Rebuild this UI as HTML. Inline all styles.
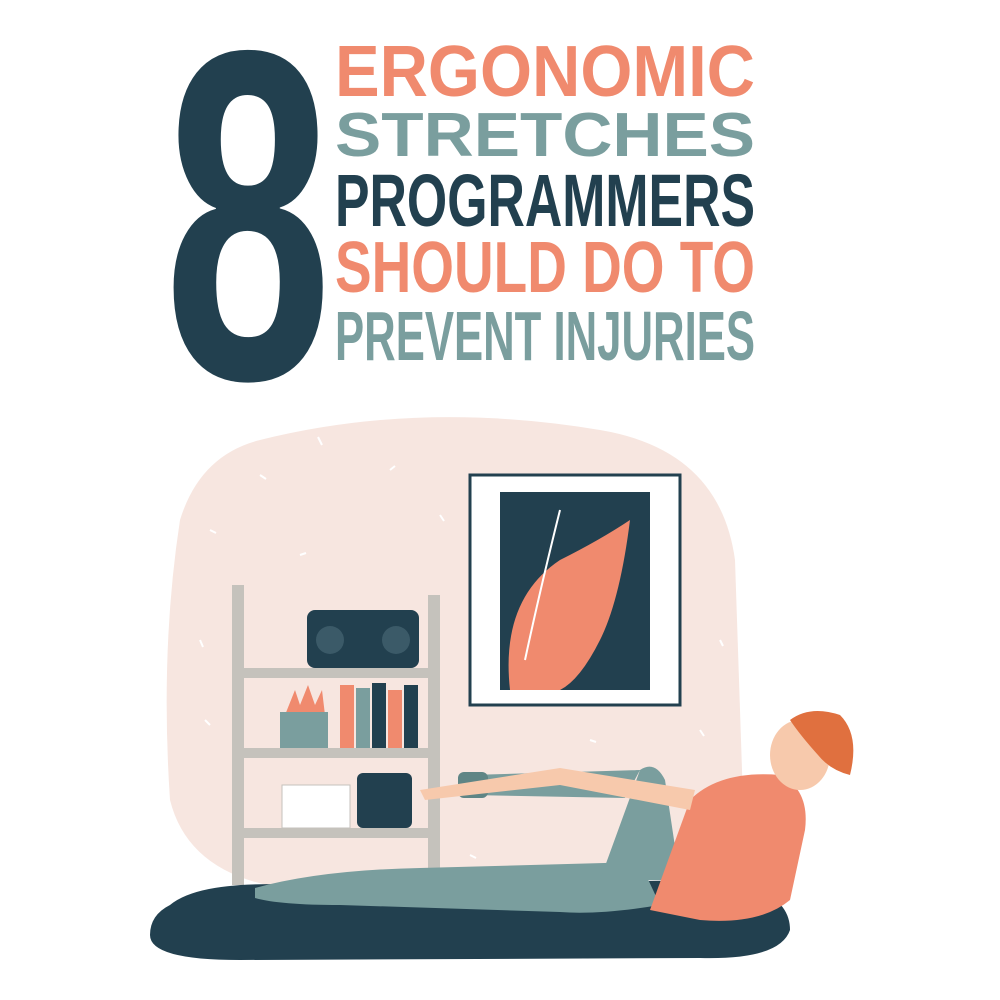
<!DOCTYPE html>
<html><head><meta charset="utf-8"><style>
html,body{margin:0;padding:0;background:#fff;width:1000px;height:1000px;overflow:hidden}
text{font-family:"Liberation Sans Narrow","Liberation Sans",sans-serif;font-weight:bold}
</style></head><body>
<svg width="1000" height="1000" viewBox="0 0 1000 1000">
<g>
<text x="248" y="378" font-size="470" text-anchor="middle" fill="#22404f" textLength="168" lengthAdjust="spacingAndGlyphs">8</text>
<text x="335" y="96" font-size="72" fill="#f08a6e" textLength="420" lengthAdjust="spacingAndGlyphs">ERGONOMIC</text>
<text x="335" y="156" font-size="62" fill="#7a9e9e" textLength="420" lengthAdjust="spacingAndGlyphs">STRETCHES</text>
<text x="335" y="226" font-size="74" fill="#22404f" textLength="420" lengthAdjust="spacingAndGlyphs">PROGRAMMERS</text>
<text x="335" y="292" font-size="72" fill="#f08a6e" textLength="420" lengthAdjust="spacingAndGlyphs">SHOULD DO TO</text>
<text x="335" y="360" font-size="70" fill="#7a9e9e" textLength="420" lengthAdjust="spacingAndGlyphs">PREVENT INJURIES</text>
</g>
<g>
<path d="M260 440 Q420 400 600 430 Q720 450 735 560 L745 860 Q600 895 300 890 Q190 880 170 800 Q160 650 180 520 Q200 455 260 440Z" fill="#f7e6e0"/>
<g stroke="#fff" stroke-width="2" fill="none">
<path d="M318 437 l4 8"/><path d="M260 475 l6 4"/><path d="M390 470 l5 -4"/><path d="M210 530 l6 3"/><path d="M440 515 l4 6"/><path d="M300 555 l6 -2"/><path d="M200 640 l3 7"/><path d="M205 720 l5 5"/><path d="M700 730 l4 6"/><path d="M720 640 l3 6"/><path d="M590 740 l6 2"/><path d="M470 855 l6 3"/>
</g>
<rect x="470" y="475" width="210" height="230" fill="#fff" stroke="#22404f" stroke-width="3"/>
<rect x="500" y="492" width="150" height="198" fill="#22404f"/>
<path d="M510 690 Q500 600 560 560 Q600 540 630 520 Q620 600 600 640 Q580 680 560 690Z" fill="#f08a6e"/>
<path d="M525 660 Q540 590 560 510" stroke="#fff" stroke-width="2" fill="none"/>
<g fill="#c5c2bc">
<rect x="232" y="585" width="12" height="300"/>
<rect x="428" y="595" width="12" height="290"/>
<rect x="244" y="668" width="184" height="10"/>
<rect x="244" y="748" width="184" height="10"/>
<rect x="244" y="828" width="184" height="10"/>
</g>
<rect x="307" y="610" width="112" height="58" rx="8" fill="#22404f"/>
<circle cx="330" cy="640" r="14" fill="#3b5a68"/><circle cx="396" cy="640" r="14" fill="#3b5a68"/>
<path d="M285 715 L295 690 L300 705 L308 685 L315 705 L322 690 L325 715Z" fill="#f08a6e"/>
<rect x="280" y="712" width="48" height="36" fill="#7a9e9e"/>
<g>
<rect x="340" y="685" width="14" height="63" fill="#f08a6e"/>
<rect x="356" y="688" width="14" height="60" fill="#7a9e9e"/>
<rect x="372" y="683" width="14" height="65" fill="#22404f"/>
<rect x="388" y="690" width="14" height="58" fill="#f08a6e"/>
<rect x="404" y="685" width="14" height="63" fill="#22404f"/>
</g>
<rect x="282" y="785" width="68" height="43" fill="#fff" stroke="#c5c2bc"/>
<rect x="357" y="773" width="55" height="55" rx="6" fill="#22404f"/>
<path d="M170 905 Q200 880 300 885 L720 880 Q790 890 790 930 Q780 960 700 958 L240 960 Q150 960 150 935 Q150 915 170 905Z" fill="#22404f"/>
<path d="M255 888 Q320 870 420 868 L640 862 L660 905 Q600 915 560 912 L340 905 Q280 905 255 898Z" fill="#7a9e9e"/>
<path d="M600 880 L640 770 Q655 760 665 780 L680 880Z M640 770 L470 775 L470 795 L625 798Z" fill="#7a9e9e"/>
<rect x="458" y="772" width="30" height="26" rx="6" fill="#5f8585"/>
<path d="M650 910 L690 800 Q720 770 780 775 Q810 790 805 830 L790 900 Q760 925 700 920Z" fill="#f08a6e"/>
<path d="M695 790 L560 768 L420 790 L425 800 L560 785 L690 810Z" fill="#f7c9ac"/>
<ellipse cx="800" cy="755" rx="30" ry="35" fill="#f7c9ac"/>
<path d="M790 720 Q810 705 840 715 Q860 735 850 775 Q830 770 818 755 Q800 735 790 720Z" fill="#e0703f"/>
</g>
</svg>
</body></html>
